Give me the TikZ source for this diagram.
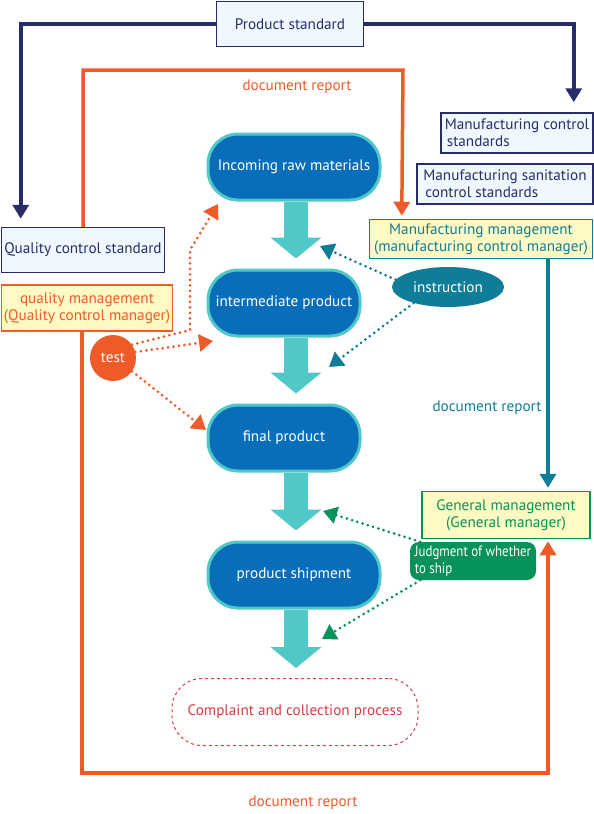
\documentclass[tikz,border=0pt]{standalone}
\usepackage{fontspec}
\setmainfont{PT Sans}
\newfontfamily\narrowfont[FakeStretch=0.86]{PT Sans}
\definecolor{navyline}{RGB}{40,45,105}
\definecolor{orangeline}{RGB}{238,90,40}
\definecolor{tealline}{RGB}{16,125,152}
\definecolor{greenline}{RGB}{6,146,88}
\definecolor{flowblue}{RGB}{8,110,185}
\definecolor{flowcyan}{RGB}{80,200,200}
\definecolor{paleyellow}{RGB}{255,249,196}
\definecolor{paleblue}{RGB}{240,248,255}
\definecolor{complaintred}{RGB}{215,60,70}
\usetikzlibrary{shapes,arrows.meta,positioning,calc}

\begin{document}
\begin{tikzpicture}[x=1pt, y=-1pt,
    font=\fontsize{15.2}{17}\selectfont,
    stdbox/.style={rectangle, draw=navyline, fill=paleblue, line width=1.5pt,
                   text=navyline, inner sep=1pt},
    mgmtbox/.style={rectangle, fill=paleyellow, line width=1.5pt, align=center, inner sep=1pt},
    flow/.style={rectangle, rounded corners=30pt, fill=flowblue, draw=flowcyan,
                 line width=3pt, text=white, minimum height=66pt},
    bigarrow/.style={line width=24pt, flowcyan, -{Triangle[length=21pt, width=50pt]},
                     shorten >=10pt},
    solidarrow/.style={line width=3.5pt, -{Triangle[length=14pt, width=16pt]}},
    dotarrow/.style={line width=3pt, dash pattern=on 0pt off 5.5pt, line cap=round,
                     -{Triangle[length=14pt, width=17pt]}}]

\useasboundingbox (0,0) rectangle (594,814);

% Standards
\node[stdbox, minimum width=147pt, minimum height=45pt] (prodstd) at (290,24) {Product standard};
\node[stdbox, minimum width=163pt, minimum height=45pt] (qcstd) at (83,250) {Quality control standard};
\node[stdbox, minimum width=152pt, minimum height=40pt, align=left] (mcstd) at (517,133)
    {Manufacturing control\\\hspace*{2pt}standards};
\node[stdbox, minimum width=176pt, minimum height=40pt, align=left] (mscstd) at (505,184)
    {Manufacturing sanitation\\\hspace*{2pt}control standards};

% Management
\node[mgmtbox, draw=tealline, text=tealline, minimum width=223pt, minimum height=39pt] (mfgmgmt) at (481,239)
    {Manufacturing management\\(manufacturing control manager)};
\node[mgmtbox, draw=orangeline, text=orangeline, minimum width=171pt, minimum height=46pt] (qmgmt) at (87,308)
    {quality management\\(Quality control manager)};
\node[mgmtbox, draw=greenline, text=greenline, minimum width=168pt, minimum height=47pt] (genmgmt) at (506,515)
    {General management\\(General manager)};

% Flow
\node[flow, minimum width=172pt] (raw) at (294,167) {Incoming raw materials};
\node[flow, minimum width=152pt] (mid) at (284,303) {intermediate product};
\node[flow, minimum width=152pt] (final) at (284,438) {final product};
\node[flow, minimum width=172pt] (ship) at (294,575) {product shipment};
\node[rectangle, rounded corners=30pt, draw=complaintred, dashed, line width=1pt,
      text=complaintred, minimum width=246pt, minimum height=67pt] (complaint) at (295,712)
    {Complaint and collection process};

% Checks
\node[circle, fill=orangeline, text=white, minimum size=46pt, inner sep=0pt] (test) at (113,358) {test};
\node[ellipse, fill=tealline, text=white, minimum width=112pt, minimum height=40pt] (instr) at (448,287) {instruction};
\node[rectangle, rounded corners=9pt, fill=greenline, text=white, align=left,
      minimum width=126pt, minimum height=38pt, inner sep=2pt,
      font=\narrowfont\fontsize{15}{17}\selectfont] (judge) at (473,561) {Judgment of whether\\to ship};

% Labels
\node[text=orangeline] (rpttop) at (297,87) {document report};
\node[text=orangeline] (rptbot) at (303,803) {document report};
\node[text=tealline] (rptmid) at (487,408) {document report};

% Bends and tips
\coordinate (rpt1) at (403,70);
\coordinate (rpt2) at (548,773);
\coordinate (tb1) at (190,330);
\coordinate (tb2) at (190,250);
\coordinate (tip1) at (218,204);
\coordinate (tip2) at (213,341);
\coordinate (tip3) at (206,430);
\coordinate (tip4) at (320,246);
\coordinate (tip5) at (329,367);
\coordinate (tip6) at (323,511);
\coordinate (tip7) at (322,639);

% Big arrows
\draw[bigarrow] ([xshift=2pt]raw.south) -- ([xshift=2pt]raw.south |- mid.north);
\draw[bigarrow] ([xshift=12pt]mid.south) -- ([xshift=12pt]mid.south |- final.north);
\draw[bigarrow] ([xshift=12pt]final.south) -- ([xshift=12pt]final.south |- ship.north);
\draw[bigarrow] ([xshift=2pt]ship.south) -- ([xshift=2pt]ship.south |- complaint.north);

% Solid arrows
\draw[solidarrow, navyline, shorten >=8pt] (prodstd.west) -| ([xshift=20pt]qcstd.north west);
\draw[solidarrow, navyline, shorten >=10pt] (prodstd.east) -| ([xshift=-20pt]mcstd.north east);
\draw[solidarrow, orangeline, shorten >=3pt] (qcstd.north) |- (rpt1) -- ([xshift=33pt]mfgmgmt.north west);
\draw[solidarrow, orangeline, shorten >=2pt] ([xshift=-5pt]qmgmt.south) |- (rpt2) -- ([xshift=42pt]genmgmt.south);
\draw[solidarrow, tealline, shorten >=3pt] ([xshift=67pt]mfgmgmt.south) -- ([xshift=42pt]genmgmt.north);

% Dotted arrows
\draw[dotarrow, orangeline] (test.35) -- (tb1) -- (tb2) -- (tip1);
\draw[dotarrow, orangeline] (test.15) -- (tip2);
\draw[dotarrow, orangeline] (test.-35) -- (tip3);
\draw[dotarrow, tealline] (instr.172) -- (tip4);
\draw[dotarrow, tealline] (instr.205) -- (tip5);
\draw[dotarrow, greenline] (judge.160) -- (tip6);
\draw[dotarrow, greenline] (judge.200) -- (tip7);
\end{tikzpicture}
\end{document}
